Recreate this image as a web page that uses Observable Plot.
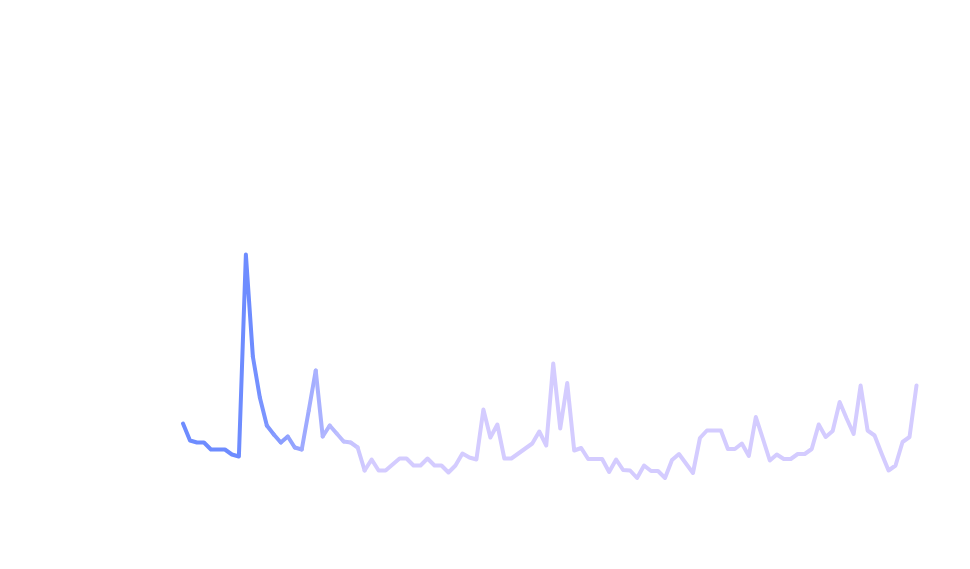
<!DOCTYPE html>
<html>
<head>
<meta charset="utf-8">
<script src="https://cdn.jsdelivr.net/npm/d3@7"></script>
<script src="https://cdn.jsdelivr.net/npm/@observablehq/plot@0.6"></script>
<style>
  html, body { margin: 0; padding: 0; background: #ffffff; }
  #chart svg { display: block; }
</style>
</head>
<body>
<div id="chart"></div>
<script>
// Weekly series (start date of first week)
const startDate = "2019-01-06";
const values = [
  19.4, 16.0, 15.6, 15.6, 14.2, 14.2, 14.2, 13.2, 12.8, 53.2,
  32.8, 24.6, 19.0, 17.2, 15.6, 16.8, 14.6, 14.2, 22.0, 30.0,
  16.8, 19.0, 17.4, 15.8, 15.6, 14.6, 10.0, 12.2, 10.0, 10.0,
  11.2, 12.4, 12.4, 11.0, 11.0, 12.4, 11.0, 11.0, 9.6, 11.0,
  13.4, 12.6, 12.2, 22.2, 16.6, 19.2, 12.4, 12.4, 13.4, 14.4,
  15.4, 17.8, 15.0, 31.4, 18.4, 27.5, 14.0, 14.5, 12.3, 12.3,
  12.3, 9.7, 12.2, 10.1, 10.0, 8.5, 11.0, 9.9, 9.9, 8.5,
  12.1, 13.3, 11.4, 9.5, 16.5, 18.0, 18.0, 18.0, 14.3, 14.3,
  15.4, 12.9, 20.7, 16.4, 12.0, 13.2, 12.3, 12.3, 13.3, 13.3,
  14.3, 19.2, 16.7, 17.9, 23.7, 20.4, 17.3, 27.0, 18.0, 17.0,
  13.4, 10.0, 11.0, 15.7, 16.7, 27.0
];
const fadeStartIndex = 9;
const fadeEndIndex = 26;

const t0 = new Date(startDate);
const data = values.map((v, i) => ({ date: d3.utcWeek.offset(t0, i), value: v }));

const chart = Plot.plot({
  width: 970,
  height: 569,
  margin: 0,
  x: { type: "utc", domain: [data[0].date, data[data.length - 1].date], range: [182.5, 916], axis: null },
  y: { domain: [0, 100], range: [520, 20], axis: null },
  color: {
    type: "linear",
    domain: [+data[fadeStartIndex].date, +data[fadeEndIndex].date],
    range: ["#6e8cff", "#d4ccff"],
    interpolate: "rgb",
    clamp: true
  },
  marks: [
    Plot.line(data, {
      x: "date",
      y: "value",
      z: null,
      stroke: d => +d.date,
      strokeWidth: 4
    })
  ]
});
document.getElementById("chart").appendChild(chart);
</script>
</body>
</html>
